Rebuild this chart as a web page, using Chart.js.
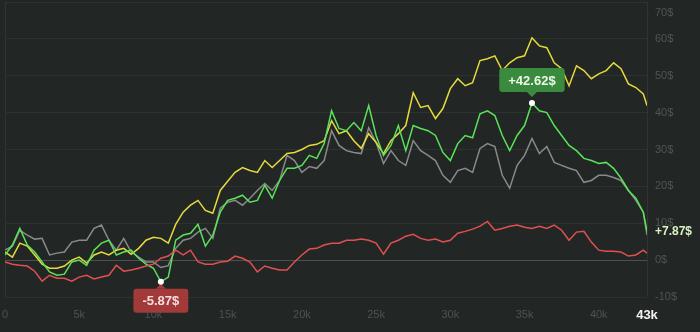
<!DOCTYPE html>
<html>
<head>
<meta charset="utf-8">
<script src="https://cdn.jsdelivr.net/npm/chart.js@4.4.1/dist/chart.umd.min.js"></script>
<style>
  html, body { margin: 0; padding: 0; background: #222725; }
</style>
</head>
<body>
<canvas id="mycanvas" width="700" height="332"></canvas>
<script>
// trades count (x), one point every 500 trades
var trades = [0, 500, 1000, 1500, 2000, 2500, 3000, 3500, 4000, 4500, 5000, 5500, 6000, 6500,
  7000, 7500, 8000, 8500, 9000, 9500, 10000, 10500, 11000, 11500, 12000, 12500, 13000, 13500,
  14000, 14500, 15000, 15500, 16000, 16500, 17000, 17500, 18000, 18500, 19000, 19500, 20000, 20500, 21000,
  21500, 22000, 22500, 23000, 23500, 24000, 24500, 25000, 25500, 26000, 26500, 27000, 27500, 28000,
  28500, 29000, 29500, 30000, 30500, 31000, 31500, 32000, 32500, 33000, 33500, 34000, 34500, 35000,
  35500, 36000, 36500, 37000, 37500, 38000, 38500, 39000, 39500, 40000, 40500, 41000, 41500, 42000,
  42500, 43000, 43250];

var yellow = [2.2, 0.8, 4.6, 3.8, 1.4, -1.1, -2.2, -2.2, -1.6, 0, 0.8, -0.8, 1.4, 2.2,
  1.4, 2.7, 3.2, 1.6, 3.2, 5.4, 6.2, 5.9, 4.6, 9.7, 13, 14.9, 16.2, 13.5,
  12.7, 18.9, 21.4, 23.8, 25.1, 24.3, 23.8, 27, 25.1, 27, 28.9, 29.2, 30, 31.1, 31.4,
  32.4, 37.8, 34.3, 35.1, 32.4, 30.3, 34.3, 31.9, 28.9, 32.4, 34.3, 36.5, 45.4, 41.4,
  41.9, 38.4, 41.1, 46.5, 49.2, 47.3, 48.1, 54.1, 54.6, 55.4, 51.4, 53.5, 54.9, 55.4,
  60.3, 58.1, 57.6, 53.5, 51.9, 47.3, 52.7, 51.4, 49.2, 50.5, 51.4, 53.5, 51.9, 47.8,
  46.8, 45.1, 41.9];

var green = [1.4, 4.1, 8.6, 4.1, 2.2, -0.5, -3.2, -4.1, -3.8, -0.5, 0, -1.4, 2.7, 4.6,
  5.4, 1.4, 2.2, 2.7, 0.5, -1.1, -2.2, -5.87, -4.6, 5.4, 6.8, 7.3, 9.7, 3.8,
  6.8, 13, 16.2, 16.8, 17.6, 15.7, 16.2, 20.3, 16.8, 21.6, 24.9, 24.9, 25.7, 28.4, 27.6,
  31.6, 40.5, 35.7, 35.1, 37.3, 35.1, 41.9, 33.8, 28.4, 31.1, 36.5, 29.7, 36.5, 35.7,
  35.1, 33.8, 29.2, 27, 31.6, 33.8, 33.2, 39.7, 40.5, 39.2, 33.8, 29.7, 33.8, 36.5,
  42.62, 40.5, 40, 36.5, 33.8, 31.1, 29.7, 27.6, 27, 26.2, 26.5, 24.9, 22.2, 18.9,
  16.8, 13, 7.87];

var gray = [2.7, 3.8, 8.1, 6.8, 5.7, 5.9, 1.4, 1.9, 2.2, 4.9, 5.4, 5.4, 8.6, 9.5,
  5.4, 2.7, 5.9, 2.2, 0.8, -0.5, -0.5, -2, -1.5, 3.2, 5.4, 5.9, 7.6, 8.6,
  5.9, 14.1, 15.7, 16.2, 14.9, 16.8, 18.9, 20.8, 18.9, 21.6, 28.4, 27, 23.8, 25.4, 24.9,
  27, 35.1, 31.1, 29.7, 29.2, 28.9, 35.9, 31.9, 26.2, 29.7, 27, 25.7, 32.4, 29.7,
  28.4, 27, 23, 21.1, 24.3, 24.9, 23.8, 30.3, 31.6, 30.8, 23, 19.5, 25.7, 28.4,
  33, 28.9, 30.8, 26.5, 25.7, 24.9, 24.3, 21.1, 21.6, 23, 23, 22.4, 21.6, 18.9,
  16.2, 13, 6.8];

var red = [-0.5, -1.1, -1.4, -1.6, -3, -5.7, -4.1, -4.9, -4.9, -5.7, -4.6, -4.1, -5.1, -4.6,
  -4.1, -1.4, -3, -2.7, -2.2, -1.6, -1.1, 0.5, 1.1, 2.7, 1.4, 2.7, -0.5, -1.1,
  -1.1, -0.5, -0.3, 1.1, 0.5, -0.5, -3.2, -1.6, -2.2, -2.7, -2.7, -0.5, 1.4, 3, 3.2,
  4.1, 4.6, 4.6, 5.4, 5.4, 5.7, 5.4, 4.6, 1.6, 4.6, 5.4, 6.5, 7, 5.9,
  5.4, 5.7, 4.9, 5.4, 7.3, 7.8, 8.4, 9.2, 10.5, 8.1, 8.6, 9.2, 9.5, 8.9,
  8.6, 9.2, 8.6, 9.5, 8.1, 5.4, 7.6, 7.8, 4.9, 2.7, 2.4, 2.4, 2.2, 1.1,
  1.4, 2.7, 1.9];

var xTicks = [0, 5000, 10000, 15000, 20000, 25000, 30000, 35000, 40000, 43250];
var xTickLabels = ['0', '5k', '10k', '15k', '20k', '25k', '30k', '35k', '40k', '43k'];
var yTicks = [-10, 0, 10, 20, 30, 40, 50, 60, 70];

var lastTrade = trades[trades.length - 1];
var fontFamily = '"Liberation Sans", Arial, sans-serif';

function toPoints(values) {
  var pts = [];
  for (var i = 0; i < values.length; i++) pts.push({ x: trades[i], y: values[i] });
  return pts;
}

function tagBox(ctx, x, y, w, h, r) {
  ctx.beginPath();
  ctx.moveTo(x + r, y);
  ctx.lineTo(x + w - r, y);
  ctx.arcTo(x + w, y, x + w, y + r, r);
  ctx.lineTo(x + w, y + h - r);
  ctx.arcTo(x + w, y + h, x + w - r, y + h, r);
  ctx.lineTo(x + r, y + h);
  ctx.arcTo(x, y + h, x, y + h - r, r);
  ctx.lineTo(x, y + r);
  ctx.arcTo(x, y, x + r, y, r);
  ctx.closePath();
}

// tags for max, min and last value of the green line
var tagsPlugin = {
  id: 'tags',
  afterDatasetsDraw: function(chart) {
    var ctx = chart.ctx;
    var xs = chart.scales.x, ys = chart.scales.y;
    var hi = green.indexOf(Math.max.apply(null, green));
    var lo = green.indexOf(Math.min.apply(null, green));
    var last = green.length - 1;
    ctx.save();
    ctx.font = 'bold 13px ' + fontFamily;
    ctx.textAlign = 'center';
    ctx.textBaseline = 'middle';

    // max
    var px = xs.getPixelForValue(trades[hi]), py = ys.getPixelForValue(green[hi]);
    var txt = '+' + green[hi].toFixed(2) + '$';
    var w = ctx.measureText(txt).width + 18, h = 24, bottom = py - 11;
    ctx.fillStyle = '#3b8b3e';
    tagBox(ctx, px - w / 2, bottom - h, w, h, 3);
    ctx.fill();
    ctx.beginPath();
    ctx.moveTo(px - 5, bottom); ctx.lineTo(px, bottom + 5); ctx.lineTo(px + 5, bottom);
    ctx.fill();
    ctx.fillStyle = '#eef7ea';
    ctx.fillText(txt, px, bottom - h / 2 + 1);
    ctx.fillStyle = '#ffffff';
    ctx.beginPath(); ctx.arc(px, py, 3, 0, Math.PI * 2); ctx.fill();

    // min
    px = xs.getPixelForValue(trades[lo]); py = ys.getPixelForValue(green[lo]);
    txt = green[lo].toFixed(2) + '$';
    w = ctx.measureText(txt).width + 18;
    var top = py + 7;
    ctx.fillStyle = '#a33a3a';
    tagBox(ctx, px - w / 2, top, w, h, 3);
    ctx.fill();
    ctx.beginPath();
    ctx.moveTo(px - 5, top); ctx.lineTo(px, top - 5); ctx.lineTo(px + 5, top);
    ctx.fill();
    ctx.fillStyle = '#f6dede';
    ctx.fillText(txt, px, top + h / 2 + 1);
    ctx.fillStyle = '#ffffff';
    ctx.beginPath(); ctx.arc(px, py, 3, 0, Math.PI * 2); ctx.fill();

    // last
    py = ys.getPixelForValue(green[last]);
    ctx.font = 'bold 12px ' + fontFamily;
    ctx.textAlign = 'left';
    ctx.fillStyle = '#d9f2c4';
    ctx.fillText('+' + green[last].toFixed(2) + '$', xs.right + 8, py + 1);
    ctx.restore();
  }
};

var chartdata = {
  datasets: [
    { label: 'red', data: toPoints(red), borderColor: '#e05050' },
    { label: 'green', data: toPoints(green), borderColor: '#5ae25a' },
    { label: 'yellow', data: toPoints(yellow), borderColor: '#e6da3c' },
    { label: 'gray', data: toPoints(gray), borderColor: '#8a8a8a' }
  ]
};

var ctx = document.getElementById('mycanvas');

var lineGraph = new Chart(ctx, {
  type: 'line',
  data: chartdata,
  options: {
    responsive: false,
    animation: false,
    layout: { padding: { left: 5, top: 2, right: 0, bottom: 0 } },
    elements: {
      line: { borderWidth: 1.5, tension: 0, fill: false },
      point: { radius: 0, hoverRadius: 0 }
    },
    plugins: { legend: { display: false }, tooltip: { enabled: false } },
    scales: {
      x: {
        type: 'linear',
        min: 0,
        max: lastTrade,
        afterBuildTicks: function(scale) {
          scale.ticks = xTicks.map(function(v) { return { value: v }; });
        },
        afterFit: function(scale) {
          scale.height = 35;
          scale.paddingLeft = 0;
          scale.paddingRight = 0;
        },
        border: { display: false },
        grid: {
          drawTicks: false,
          color: function(c) {
            return (c.index === 0 || (c.tick && c.tick.value === lastTrade)) ? '#2f3532' : 'rgba(0,0,0,0)';
          }
        },
        ticks: {
          padding: 11,
          maxRotation: 0,
          autoSkip: false,
          callback: function(v) { return xTickLabels[xTicks.indexOf(v)]; },
          color: function(c) { return c.tick && c.tick.value === lastTrade ? '#f2f2f2' : '#4d5350'; },
          font: function(c) {
            return c.tick && c.tick.value === lastTrade
              ? { family: fontFamily, size: 13, weight: 'bold' }
              : { family: fontFamily, size: 11 };
          }
        }
      },
      y: {
        position: 'right',
        min: -10,
        max: 70,
        afterBuildTicks: function(scale) {
          scale.ticks = yTicks.map(function(v) { return { value: v }; });
        },
        afterFit: function(scale) {
          scale.width = 53;
          scale.paddingTop = 0;
          scale.paddingBottom = 0;
        },
        border: { display: false },
        grid: {
          drawTicks: false,
          color: function(c) { return c.tick && c.tick.value === 0 ? '#4c514e' : '#2c322f'; }
        },
        ticks: {
          padding: 8,
          autoSkip: false,
          color: '#4f5552',
          font: { family: fontFamily, size: 11, lineHeight: 1 },
          callback: function(v) { return v === 70 ? ['', '', v + '$'] : v + '$'; }
        }
      }
    }
  },
  plugins: [tagsPlugin]
});
</script>
</body>
</html>
